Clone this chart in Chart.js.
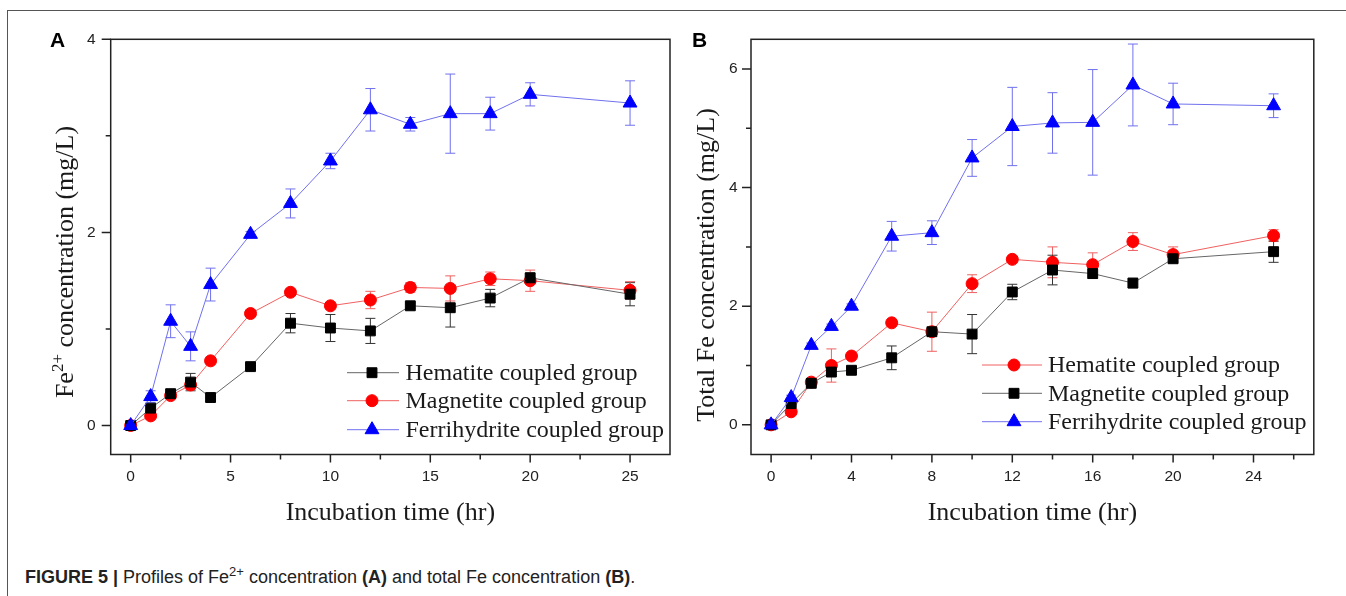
<!DOCTYPE html>
<html>
<head>
<meta charset="utf-8">
<title>Fe concentration profiles</title>
<script src="https://cdn.jsdelivr.net/npm/chart.js@4.4.1/dist/chart.umd.min.js"></script>
<style>
  body { margin: 0; background: #fff; width: 1346px; height: 596px; overflow: hidden; position: relative; }
  #frame { position: absolute; left: 7px; top: 10px; width: 1345px; height: 600px; border-top: 1.5px solid #555; border-left: 1.5px solid #555; }
  #chartA { position: absolute; left: 0; top: 0; }
  #chartB { position: absolute; left: 680px; top: 0; }
  #caption { position: absolute; left: 25px; top: 567px; font-family: "Liberation Sans", Arial, sans-serif; font-size: 18px; line-height: 20px; color: #222; white-space: nowrap; }
  #caption .sup { font-size: 13px; position: relative; top: -7px; }
</style>
</head>
<body>
<div id="frame"></div>
<canvas id="chartA" width="680" height="540"></canvas>
<canvas id="chartB" width="666" height="540"></canvas>
<div id="caption"><b>FIGURE 5 |</b> Profiles of Fe<span class="sup">2+</span> concentration <b>(A)</b> and total Fe concentration <b>(B)</b>.</div>

<script>
// Panel A: Fe2+ (mg/L)
const timesA = [0, 1, 2, 3, 4, 6, 8, 10, 12, 14, 16, 18, 20, 25];
const hematiteA = [0, 0.18, 0.33, 0.45, 0.29, 0.61, 1.06, 1.01, 0.98, 1.24, 1.22, 1.32, 1.53, 1.36];
const hematiteErrA = [0.02, 0.03, 0.04, 0.09, 0.04, 0.03, 0.10, 0.14, 0.13, 0.03, 0.20, 0.09, 0.05, 0.12];
const magnetiteA = [0, 0.10, 0.31, 0.42, 0.67, 1.16, 1.38, 1.24, 1.30, 1.43, 1.42, 1.52, 1.50, 1.40];
const magnetiteErrA = [0.02, 0.03, 0.03, 0.05, 0.03, 0.03, 0.03, 0.03, 0.09, 0.05, 0.13, 0.07, 0.11, 0.09];
const ferrihydriteA = [0, 0.30, 1.08, 0.82, 1.46, 1.98, 2.30, 2.74, 3.27, 3.12, 3.23, 3.23, 3.43, 3.34];
const ferrihydriteErrA = [0.02, 0.06, 0.17, 0.15, 0.17, 0.03, 0.15, 0.08, 0.22, 0.07, 0.41, 0.17, 0.12, 0.23];

// Panel B: total Fe (mg/L)
const timesB = [0, 1, 2, 3, 4, 6, 8, 10, 12, 14, 16, 18, 20, 25];
const hematiteB = [0, 0.22, 0.72, 1.00, 1.16, 1.72, 1.57, 2.38, 2.79, 2.74, 2.70, 3.09, 2.87, 3.19];
const hematiteErrB = [0.02, 0.03, 0.05, 0.28, 0.04, 0.05, 0.33, 0.15, 0.04, 0.26, 0.20, 0.15, 0.13, 0.10];
const magnetiteB = [0, 0.36, 0.70, 0.89, 0.92, 1.13, 1.57, 1.53, 2.24, 2.61, 2.55, 2.39, 2.80, 2.92];
const magnetiteErrB = [0.02, 0.04, 0.05, 0.05, 0.04, 0.20, 0.05, 0.33, 0.13, 0.25, 0.08, 0.08, 0.05, 0.18];
const ferrihydriteB = [0, 0.46, 1.34, 1.66, 2.00, 3.18, 3.24, 4.50, 5.03, 5.09, 5.10, 5.73, 5.41, 5.38];
const ferrihydriteErrB = [0.02, 0.04, 0.04, 0.04, 0.04, 0.25, 0.20, 0.31, 0.66, 0.51, 0.89, 0.69, 0.35, 0.20];

// Ticks
const xMajorA = [0, 5, 10, 15, 20, 25];
const xMinorA = [2.5, 7.5, 12.5, 17.5, 22.5];
const yMajorA = [0, 2, 4];
const yMinorA = [1, 3];
const xMajorB = [0, 4, 8, 12, 16, 20, 24];
const xMinorB = [2, 6, 10, 14, 18, 22, 26];
const yMajorB = [0, 2, 4, 6];
const yMinorB = [1, 3, 5];

const labelsA = ['Hematite coupled group', 'Magnetite coupled group', 'Ferrihydrite coupled group'];
const labelsB = ['Hematite coupled group', 'Magnetite coupled group', 'Ferrihydrite coupled group'];

const SERIF = '"Liberation Serif", "Times New Roman", serif';
const SANS = '"Liberation Sans", Arial, sans-serif';

// Estilos de cada marcador
const BLACK = { pointStyle: 'rect', pointRadius: 7, marker: '#000', line: '#666', err: '#333' };
const RED = { pointStyle: 'circle', pointRadius: 6, marker: '#ff0000', line: '#f06060', err: '#f06060' };
const BLUE = { pointStyle: 'triangle', pointRadius: 8, marker: '#0000ff', line: '#7070ee', err: '#7070ee' };

function serie(label, times, values, errors, style, order) {
    return {
        label: label,
        data: times.map((t, i) => ({ x: t, y: values[i] })),
        errors: errors,
        errColor: style.err,
        borderColor: style.line,
        borderWidth: 1,
        pointStyle: style.pointStyle,
        pointRadius: style.pointRadius,
        pointBackgroundColor: style.marker,
        pointBorderColor: style.marker,
        pointBorderWidth: 1,
        tension: 0,
        order: order
    };
}

// Plugin: caja, ticks, barras de error, títulos y leyenda
const figurePlugin = {
    id: 'figure',
    beforeDatasetsDraw(chart) {
        const ctx = chart.ctx;
        const yScale = chart.scales.y;
        ctx.save();
        ctx.lineWidth = 1;
        chart.data.datasets.forEach((ds, di) => {
            const meta = chart.getDatasetMeta(di);
            ctx.strokeStyle = ds.errColor;
            ctx.beginPath();
            meta.data.forEach((pt, i) => {
                const v = ds.data[i].y;
                const e = ds.errors[i];
                const top = yScale.getPixelForValue(v + e);
                const bot = yScale.getPixelForValue(v - e);
                ctx.moveTo(pt.x, top); ctx.lineTo(pt.x, bot);
                ctx.moveTo(pt.x - 5, top); ctx.lineTo(pt.x + 5, top);
                ctx.moveTo(pt.x - 5, bot); ctx.lineTo(pt.x + 5, bot);
            });
            ctx.stroke();
        });
        ctx.restore();
    },
    afterDraw(chart, args, opts) {
        const ctx = chart.ctx;
        const a = chart.chartArea;
        const x = chart.scales.x, y = chart.scales.y;
        ctx.save();
        ctx.strokeStyle = '#222';
        ctx.lineWidth = 1.5;
        ctx.strokeRect(a.left, a.top, a.right - a.left, a.bottom - a.top);
        ctx.beginPath();
        opts.xMajor.forEach(v => { const p = x.getPixelForValue(v); ctx.moveTo(p, a.bottom); ctx.lineTo(p, a.bottom + 8); });
        opts.xMinor.forEach(v => { const p = x.getPixelForValue(v); ctx.moveTo(p, a.bottom); ctx.lineTo(p, a.bottom + 5); });
        opts.yMajor.forEach(v => { const p = y.getPixelForValue(v); ctx.moveTo(a.left, p); ctx.lineTo(a.left - 9, p); });
        opts.yMinor.forEach(v => { const p = y.getPixelForValue(v); ctx.moveTo(a.left, p); ctx.lineTo(a.left - 5, p); });
        ctx.stroke();

        // letra del panel
        ctx.fillStyle = '#000';
        ctx.font = 'bold 21px ' + SANS;
        ctx.textAlign = 'left';
        ctx.textBaseline = 'alphabetic';
        ctx.fillText(opts.letter, opts.letterX, 47);

        // título eje x
        ctx.fillStyle = '#1a1a1a';
        ctx.font = '26px ' + SERIF;
        ctx.textAlign = 'center';
        ctx.fillText(opts.xTitle, (a.left + a.right) / 2, 520);

        // título eje y (con superíndice opcional)
        ctx.save();
        ctx.translate(opts.yTitleX, opts.yTitleY);
        ctx.rotate(-Math.PI / 2);
        ctx.textAlign = 'left';
        const big = '26px ' + SERIF, small = '17px ' + SERIF;
        let total = 0;
        opts.yTitle.forEach(part => { ctx.font = part.sup ? small : big; total += ctx.measureText(part.text).width; });
        let cx = -total / 2;
        opts.yTitle.forEach(part => {
            ctx.font = part.sup ? small : big;
            ctx.fillText(part.text, cx, part.sup ? -10 : 0);
            cx += ctx.measureText(part.text).width;
        });
        ctx.restore();

        // leyenda
        const lg = opts.legend;
        ctx.font = '24px ' + SERIF;
        ctx.textAlign = 'left';
        ctx.textBaseline = 'middle';
        lg.order.forEach((di, row) => {
            const ds = chart.data.datasets[di];
            const ly = lg.rows[row];
            ctx.strokeStyle = ds.borderColor;
            ctx.lineWidth = 1;
            ctx.beginPath();
            ctx.moveTo(lg.x1, ly); ctx.lineTo(lg.x2, ly);
            ctx.stroke();
            ctx.fillStyle = ds.pointBackgroundColor;
            ctx.strokeStyle = ds.pointBorderColor;
            Chart.helpers.drawPoint(ctx, { pointStyle: ds.pointStyle, radius: ds.pointRadius, rotation: 0, borderWidth: 1 }, lg.mx, ly);
            ctx.fillStyle = '#1a1a1a';
            ctx.fillText(ds.label, lg.tx, ly + 1);
        });
        ctx.restore();
    }
};

function makeScales(xMin, xMax, yMin, yMax, xMajor, yMajor, yWidth, yPad) {
    const tickFont = { family: SANS, size: 15.5 };
    return {
        x: {
            type: 'linear', min: xMin, max: xMax,
            afterBuildTicks: s => { s.ticks = xMajor.map(v => ({ value: v })); },
            afterFit: s => { s.height = 540 - 454.5; },
            ticks: { font: tickFont, color: '#222', padding: 13, maxRotation: 0, autoSkip: false },
            grid: { display: false, drawTicks: false },
            border: { display: false }
        },
        y: {
            type: 'linear', min: yMin, max: yMax,
            afterBuildTicks: s => { s.ticks = yMajor.map(v => ({ value: v })); },
            afterFit: s => { s.width = yWidth; },
            ticks: { font: tickFont, color: '#222', padding: yPad, autoSkip: false },
            grid: { display: false, drawTicks: false },
            border: { display: false }
        }
    };
}

const chartA = new Chart(document.getElementById('chartA'), {
    type: 'line',
    data: {
        datasets: [
            serie(labelsA[0], timesA, hematiteA, hematiteErrA, BLACK, 1),
            serie(labelsA[1], timesA, magnetiteA, magnetiteErrA, RED, 2),
            serie(labelsA[2], timesA, ferrihydriteA, ferrihydriteErrA, BLUE, 0)
        ]
    },
    options: {
        responsive: false,
        animation: false,
        layout: { padding: { left: 0, right: 10, top: 39.3, bottom: 0 } },
        scales: makeScales(-1, 27, -0.3, 4, xMajorA, yMajorA, 110.7, 15),
        plugins: {
            legend: { display: false },
            tooltip: { enabled: false },
            figure: {
                xMajor: xMajorA, xMinor: xMinorA, yMajor: yMajorA, yMinor: yMinorA,
                letter: 'A', letterX: 50,
                xTitle: 'Incubation time (hr)',
                yTitle: [{ text: 'Fe' }, { text: '2+', sup: true }, { text: ' concentration (mg/L)' }],
                yTitleX: 73, yTitleY: 262,
                legend: { order: [0, 1, 2], rows: [372.7, 400.7, 429.7], x1: 347, x2: 399, mx: 372, tx: 405.5 }
            }
        }
    },
    plugins: [figurePlugin]
});

const chartB = new Chart(document.getElementById('chartB'), {
    type: 'line',
    data: {
        datasets: [
            serie(labelsB[0], timesB, hematiteB, hematiteErrB, RED, 2),
            serie(labelsB[1], timesB, magnetiteB, magnetiteErrB, BLACK, 1),
            serie(labelsB[2], timesB, ferrihydriteB, ferrihydriteErrB, BLUE, 0)
        ]
    },
    options: {
        responsive: false,
        animation: false,
        layout: { padding: { left: 0, right: 32.2, top: 39.3, bottom: 0 } },
        scales: makeScales(-1, 27, -0.5, 6.5, xMajorB, yMajorB, 71, 13.5),
        plugins: {
            legend: { display: false },
            tooltip: { enabled: false },
            figure: {
                xMajor: xMajorB, xMinor: xMinorB, yMajor: yMajorB, yMinor: yMinorB,
                letter: 'B', letterX: 12,
                xTitle: 'Incubation time (hr)',
                yTitle: [{ text: 'Total Fe concentration (mg/L)' }],
                yTitleX: 34, yTitleY: 265,
                legend: { order: [0, 1, 2], rows: [365, 393.3, 421.7], x1: 302, x2: 362, mx: 334, tx: 368 }
            }
        }
    },
    plugins: [figurePlugin]
});
</script>
</body>
</html>
